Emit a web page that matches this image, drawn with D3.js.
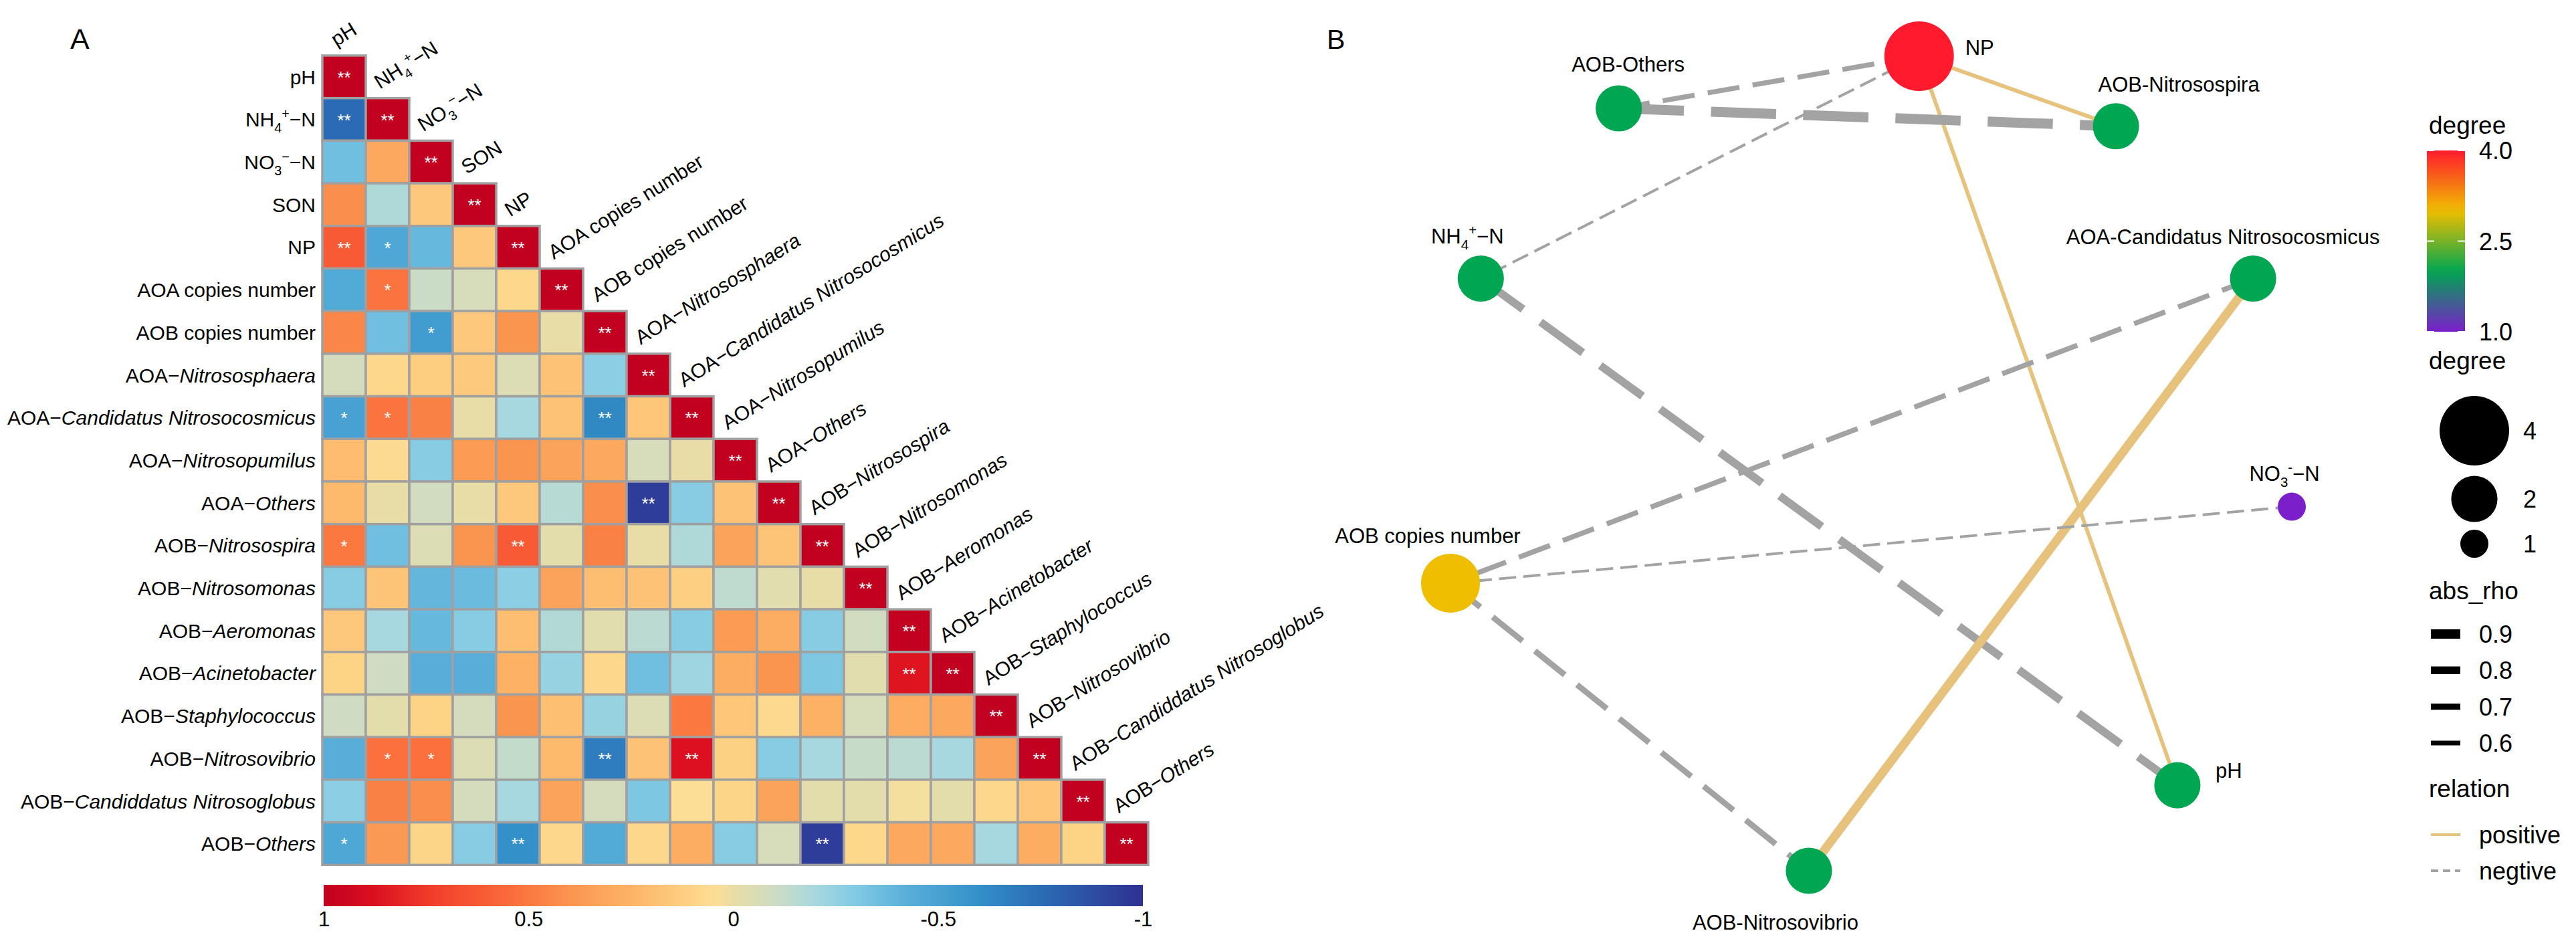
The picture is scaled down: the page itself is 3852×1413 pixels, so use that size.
<!DOCTYPE html>
<html><head><meta charset="utf-8">
<script src="https://cdn.jsdelivr.net/npm/d3@7/dist/d3.min.js"></script>
<style>
body{margin:0;background:#fff}
text{font-family:"Liberation Sans",Arial,Helvetica,sans-serif;fill:#000}
</style>
</head><body>
<svg id="chart" width="3852" height="1413" xmlns="http://www.w3.org/2000/svg"></svg>
<script>
// ---------------- DATA ----------------
const variables = ["pH","NH4","NO3","SON","NP","AOA_copies","AOB_copies","AOA_Nitrososphaera","AOA_Candidatus","AOA_Nitrosopumilus","AOA_Others","AOB_Nitrosospira","AOB_Nitrosomonas","AOB_Aeromonas","AOB_Acinetobacter","AOB_Staphylococcus","AOB_Nitrosovibrio","AOB_Nitrosoglobus","AOB_Others"];

const variableLabels = [
  [["pH","n"]],
  [["NH","n"],["4","sub"],["+","sup"],["\u2212N","n"]],
  [["NO","n"],["3","sub"],["\u2212","sup"],["\u2212N","n"]],
  [["SON","n"]],
  [["NP","n"]],
  [["AOA copies number","n"]],
  [["AOB copies number","n"]],
  [["AOA\u2212","n"],["Nitrososphaera","i"]],
  [["AOA\u2212","n"],["Candidatus Nitrosocosmicus","i"]],
  [["AOA\u2212","n"],["Nitrosopumilus","i"]],
  [["AOA\u2212","n"],["Others","i"]],
  [["AOB\u2212","n"],["Nitrosospira","i"]],
  [["AOB\u2212","n"],["Nitrosomonas","i"]],
  [["AOB\u2212","n"],["Aeromonas","i"]],
  [["AOB\u2212","n"],["Acinetobacter","i"]],
  [["AOB\u2212","n"],["Staphylococcus","i"]],
  [["AOB\u2212","n"],["Nitrosovibrio","i"]],
  [["AOB\u2212","n"],["Candiddatus Nitrosoglobus","i"]],
  [["AOB\u2212","n"],["Others","i"]]
];

// lower triangle correlation matrix (row i: columns 0..i)
const corrRows = [
  [1],
  [-0.76, 1],
  [-0.35, 0.30, 1],
  [0.42, -0.18, 0.15, 1],
  [0.62, -0.47, -0.38, 0.15, 1],
  [-0.45, 0.52, -0.11, -0.07, 0.08, 1],
  [0.45, -0.35, -0.53, 0.15, 0.40, 0.00, 1],
  [-0.08, 0.08, 0.13, 0.14, -0.05, 0.18, -0.27, 1],
  [-0.50, 0.52, 0.47, 0.00, -0.20, 0.18, -0.63, 0.16, 1],
  [0.21, 0.06, -0.28, 0.37, 0.40, 0.33, 0.30, -0.07, 0.00, 1],
  [0.22, 0.00, -0.09, 0.00, 0.15, -0.16, 0.42, -0.95, -0.28, 0.18, 1],
  [0.50, -0.35, -0.05, 0.40, 0.62, -0.02, 0.47, 0.00, -0.18, 0.33, 0.17, 1],
  [-0.28, 0.17, -0.39, -0.37, -0.27, 0.33, 0.20, 0.18, 0.12, -0.14, -0.03, 0.00, 1],
  [0.15, -0.20, -0.38, -0.28, 0.20, -0.17, -0.03, -0.15, -0.28, 0.37, 0.28, -0.28, -0.09, 1],
  [0.10, -0.10, -0.43, -0.43, 0.26, -0.24, 0.08, -0.35, -0.22, 0.28, 0.40, -0.31, -0.03, 0.86, 1],
  [-0.10, -0.02, 0.10, -0.08, 0.40, 0.19, -0.24, -0.05, 0.50, 0.16, 0.07, 0.26, -0.07, 0.28, 0.30, 1],
  [-0.43, 0.53, 0.53, -0.05, -0.13, 0.22, -0.68, 0.18, 0.87, 0.11, -0.28, -0.20, -0.12, -0.15, -0.20, 0.33, 1],
  [-0.27, 0.47, 0.42, -0.08, -0.20, 0.33, -0.08, -0.31, 0.04, 0.09, 0.33, -0.02, -0.02, 0.02, -0.02, 0.08, 0.16, 1],
  [-0.47, 0.38, 0.09, -0.28, -0.60, 0.08, -0.45, 0.08, 0.28, -0.28, -0.07, -0.95, 0.08, 0.30, 0.30, -0.20, 0.28, 0.10, 1]
];

// significance marks [row, col, mark] (diagonal is always "**")
const sigMarks = [
  [1,0,"**"],[4,0,"**"],[4,1,"*"],[5,1,"*"],[6,2,"*"],[8,0,"*"],[8,1,"*"],[8,6,"**"],
  [10,7,"**"],[11,0,"*"],[11,4,"**"],[14,13,"**"],[16,1,"*"],[16,2,"*"],[16,6,"**"],
  [16,8,"**"],[18,0,"*"],[18,4,"**"],[18,11,"**"]
];

const colorbarTicks = [1, 0.5, 0, -0.5, -1];

// network
const netNodes = ["NP","AOB-Others","AOB-Nitrosospira","NH4","AOA-Candidatus","NO3","AOB copies","pH","AOB-Nitrosovibrio"];
const netNodeLabels = {
  "NP": [["NP","n"]],
  "AOB-Others": [["AOB-Others","n"]],
  "AOB-Nitrosospira": [["AOB-Nitrosospira","n"]],
  "NH4": [["NH","n"],["4","sub"],["+","sup"],["\u2212N","n"]],
  "AOA-Candidatus": [["AOA-Candidatus Nitrosocosmicus","n"]],
  "NO3": [["NO","n"],["3","sub"],["-","sup"],["\u2212N","n"]],
  "AOB copies": [["AOB copies number","n"]],
  "pH": [["pH","n"]],
  "AOB-Nitrosovibrio": [["AOB-Nitrosovibrio","n"]]
};
// layout coordinates (layout units 0..1)
const netLayoutX = {"NP":0.557,"AOB-Others":0.200,"AOB-Nitrosospira":0.791,"NH4":0.036,"AOA-Candidatus":0.954,"NO3":1.0,"AOB copies":0.0,"pH":0.864,"AOB-Nitrosovibrio":0.426};
const netLayoutY = {"NP":0.0,"AOB-Others":0.064,"AOB-Nitrosospira":0.086,"NH4":0.273,"AOA-Candidatus":0.273,"NO3":0.553,"AOB copies":0.647,"pH":0.895,"AOB-Nitrosovibrio":1.0};
// edges: source, target, rho
const netEdges = [
  ["NP","AOB-Others",-0.62],
  ["NP","NH4",-0.47],
  ["NP","AOB-Nitrosospira",0.55],
  ["NP","pH",0.55],
  ["AOB-Others","AOB-Nitrosospira",-0.95],
  ["NH4","pH",-0.82],
  ["AOA-Candidatus","AOB copies",-0.63],
  ["AOA-Candidatus","AOB-Nitrosovibrio",0.87],
  ["AOB copies","NO3",-0.47],
  ["AOB copies","AOB-Nitrosovibrio",-0.68]
];
const degreeBreaks = [4.0, 2.5, 1.0];
const sizeBreaks = [4, 2, 1];
const rhoBreaks = [0.9, 0.8, 0.7, 0.6];
const relationLevels = ["positive","negtive"];

// ---------------- STYLE / LAYOUT ----------------
const svg = d3.select("#chart");
svg.append("rect").attr("width",3852).attr("height",1413).attr("fill","#fff");

function rich(sel, segs, fs) {
  let shift = 0;
  segs.forEach(([t,k]) => {
    let target = 0, size = fs;
    if (k === "sub") { target = 0.30*fs; size = 0.66*fs; }
    else if (k === "sup") { target = -0.40*fs; size = 0.66*fs; }
    const ts = sel.append("tspan").text(t).attr("font-size", size).attr("dy", target - shift);
    if (k === "i") ts.attr("font-style","italic");
    shift = target;
  });
}

// ---- Panel A ----
const cellW = 65, cellH = 63.7, gx0 = 482, gy0 = 83, n = variables.length;
const xB = d3.scaleBand().domain(variables).range([gx0, gx0 + cellW*n]);
const yB = d3.scaleBand().domain(variables).range([gy0, gy0 + cellH*n]);

const stops = [
  [1.00,"#C2001F"],[0.87,"#DC1020"],[0.75,"#F03B2A"],[0.55,"#FB6A3A"],[0.40,"#FA9550"],
  [0.25,"#FDB366"],[0.10,"#FDD386"],[0.03,"#FCE09A"],[0.00,"#E8DDA6"],[-0.10,"#CFDCC3"],
  [-0.20,"#A7D8DF"],[-0.30,"#80C9E4"],[-0.45,"#52AAD7"],[-0.60,"#3390C8"],[-0.75,"#2B6CB5"],[-1.00,"#2E3192"]
];
const corrColor = d3.scaleLinear().domain(stops.map(s=>s[0])).range(stops.map(s=>s[1])).interpolate(d3.interpolateRgb);

svg.append("text").attr("x",105).attr("y",73).attr("font-size",43).text("A");

const cells = [];
corrRows.forEach((row,i) => row.forEach((v,j) => cells.push({i,j,v})));
const gA = svg.append("g");
gA.selectAll("rect.cell").data(cells).join("rect")
  .attr("class","cell")
  .attr("x", d => xB(variables[d.j]))
  .attr("y", d => yB(variables[d.i]))
  .attr("width", xB.bandwidth())
  .attr("height", yB.bandwidth())
  .attr("fill", d => corrColor(d.v))
  .attr("stroke","#A0A0A0").attr("stroke-width",3.5);

const marks = sigMarks.concat(variables.map((v,i)=>[i,i,"**"]));
gA.selectAll("text.sig").data(marks).join("text")
  .attr("class","sig")
  .attr("x", d => xB(variables[d[1]]) + xB.bandwidth()/2)
  .attr("y", d => yB(variables[d[0]]) + yB.bandwidth()/2 + 10)
  .attr("text-anchor","middle").attr("font-size",26)
  .style("fill","#fff").text(d => d[2]);

const labFs = 30;
variables.forEach((v,i) => {
  const t = gA.append("text")
    .attr("x", gx0 - 10)
    .attr("y", yB(v) + yB.bandwidth()/2 + 0.36*labFs)
    .attr("text-anchor","end").attr("font-size",labFs);
  rich(t, variableLabels[i], labFs);
  const c = gA.append("text")
    .attr("transform", `translate(${xB(v)+21},${yB(v)-13}) rotate(-32)`)
    .attr("text-anchor","start").attr("font-size",labFs);
  rich(c, variableLabels[i], labFs);
});

// colorbar
const cbX = d3.scaleLinear().domain([1,-1]).range([484,1709]);
const defs = svg.append("defs");
const lg = defs.append("linearGradient").attr("id","corrGrad").attr("x1","0%").attr("x2","100%").attr("y1","0%").attr("y2","0%");
d3.range(0,1.0001,0.02).forEach(f => {
  lg.append("stop").attr("offset", (f*100)+"%").attr("stop-color", corrColor(1 - 2*f));
});
svg.append("rect").attr("x",cbX(1)).attr("y",1323).attr("width",cbX(-1)-cbX(1)).attr("height",32).attr("fill","url(#corrGrad)");
const cbAxis = svg.append("g").attr("transform","translate(0,1357)")
  .call(d3.axisBottom(cbX).tickValues(colorbarTicks).tickSize(0).tickPadding(6).tickFormat(d => String(d)));
cbAxis.select(".domain").remove();
cbAxis.selectAll("text").attr("font-size",31).attr("font-family","Liberation Sans, Arial, sans-serif").attr("fill","#000");

// ---- Panel B ----
svg.append("text").attr("x",1984).attr("y",73).attr("font-size",41).text("B");

const nx = d3.scaleLinear().domain([0,1]).range([2169,3427]);
const ny = d3.scaleLinear().domain([0,1]).range([84,1302]);
const degree = {};
netNodes.forEach(id => degree[id] = 0);
netEdges.forEach(([s,t]) => { degree[s]++; degree[t]++; });

const degColor = d3.scaleLinear().domain([1,2,3,4]).range(["#7B1FCB","#00A651","#F0BE00","#FF1A2E"]).interpolate(d3.interpolateRgb);
const areaScale = d3.scaleLinear().domain([1,4]).range([21*21, 52*52]);
const rOf = d => Math.sqrt(areaScale(d));
const widthScale = d3.scaleLinear().domain([0.45,0.95]).range([3.5,15]);
const posCol = "#E7C27C", negCol = "#A3A3A3";

const gB = svg.append("g");
gB.selectAll("line.edge").data(netEdges).join("line")
  .attr("class","edge")
  .attr("x1", d => nx(netLayoutX[d[0]])).attr("y1", d => ny(netLayoutY[d[0]]))
  .attr("x2", d => nx(netLayoutX[d[1]])).attr("y2", d => ny(netLayoutY[d[1]]))
  .attr("stroke", d => d[2] > 0 ? posCol : negCol)
  .attr("stroke-width", d => widthScale(Math.abs(d[2])))
  .attr("stroke-dasharray", d => d[2] > 0 ? null : `${6.5*widthScale(Math.abs(d[2]))} ${2.7*widthScale(Math.abs(d[2]))}`);

gB.selectAll("circle.node").data(netNodes).join("circle")
  .attr("class","node")
  .attr("cx", d => nx(netLayoutX[d])).attr("cy", d => ny(netLayoutY[d]))
  .attr("r", d => rOf(degree[d]))
  .attr("fill", d => degColor(degree[d]));

const nodeLabelPos = {
  "NP":{dx:69,dy:-2,a:"start"},
  "AOB-Others":{dx:14,dy:-55,a:"middle"},
  "AOB-Nitrosospira":{dx:94,dy:-52,a:"middle"},
  "NH4":{dx:-20,dy:-53,a:"middle"},
  "AOA-Candidatus":{dx:-45,dy:-52,a:"middle"},
  "NO3":{dx:-11,dy:-39,a:"middle"},
  "AOB copies":{dx:-34,dy:-60,a:"middle"},
  "pH":{dx:57,dy:-11,a:"start"},
  "AOB-Nitrosovibrio":{dx:-50,dy:88,a:"middle"}
};
const nodeFs = 31;
netNodes.forEach(id => {
  const p = nodeLabelPos[id];
  const t = gB.append("text")
    .attr("x", nx(netLayoutX[id]) + p.dx)
    .attr("y", ny(netLayoutY[id]) + p.dy)
    .attr("text-anchor", p.a).attr("font-size", nodeFs);
  rich(t, netNodeLabels[id], nodeFs);
});

// ---- Legends ----
const lgX = 3632, lblX = 3707, legFs = 36, titleFs = 37;
const gL = svg.append("g");
gL.append("text").attr("x",lgX).attr("y",200).attr("font-size",titleFs).text("degree");
const degY = d3.scaleLinear().domain([1,4]).range([496,225]);
const vg = defs.append("linearGradient").attr("id","degGrad").attr("x1","0%").attr("x2","0%").attr("y1","100%").attr("y2","0%");
d3.range(0,1.0001,0.05).forEach(f => vg.append("stop").attr("offset",(f*100)+"%").attr("stop-color", degColor(1+3*f)));
gL.append("rect").attr("x",3629).attr("y",degY(4)).attr("width",57).attr("height",degY(1)-degY(4)).attr("fill","url(#degGrad)");
degreeBreaks.forEach(b => {
  gL.append("line").attr("x1",3629).attr("x2",3640).attr("y1",degY(b)).attr("y2",degY(b)).attr("stroke","#fff").attr("stroke-width",2);
  gL.append("line").attr("x1",3675).attr("x2",3686).attr("y1",degY(b)).attr("y2",degY(b)).attr("stroke","#fff").attr("stroke-width",2);
  gL.append("text").attr("x",lblX).attr("y",degY(b)+13).attr("font-size",legFs).text(b.toFixed(1));
});

gL.append("text").attr("x",lgX).attr("y",552).attr("font-size",titleFs).text("degree");
const sizeY = {4:644, 2:746, 1:813};
sizeBreaks.forEach(b => {
  gL.append("circle").attr("cx",3700).attr("cy",sizeY[b]).attr("r",rOf(b)).attr("fill","#000");
  gL.append("text").attr("x",3773).attr("y",sizeY[b]+13).attr("font-size",legFs).text(b);
});

gL.append("text").attr("x",lgX).attr("y",896).attr("font-size",titleFs).text("abs_rho");
const rhoY = d3.scalePoint().domain(rhoBreaks).range([948,1111]);
rhoBreaks.forEach(b => {
  gL.append("line").attr("x1",3635).attr("x2",3679).attr("y1",rhoY(b)).attr("y2",rhoY(b)).attr("stroke","#000").attr("stroke-width",widthScale(b));
  gL.append("text").attr("x",lblX).attr("y",rhoY(b)+13).attr("font-size",legFs).text(b.toFixed(1));
});

gL.append("text").attr("x",lgX).attr("y",1192).attr("font-size",titleFs).text("relation");
const relY = d3.scalePoint().domain(relationLevels).range([1248,1302]);
gL.append("line").attr("x1",3635).attr("x2",3679).attr("y1",relY("positive")).attr("y2",relY("positive")).attr("stroke",posCol).attr("stroke-width",4);
gL.append("line").attr("x1",3635).attr("x2",3679).attr("y1",relY("negtive")).attr("y2",relY("negtive")).attr("stroke",negCol).attr("stroke-width",4).attr("stroke-dasharray","11 7");
relationLevels.forEach(r => gL.append("text").attr("x",lblX).attr("y",relY(r)+13).attr("font-size",legFs).text(r));
</script>
</body></html>
